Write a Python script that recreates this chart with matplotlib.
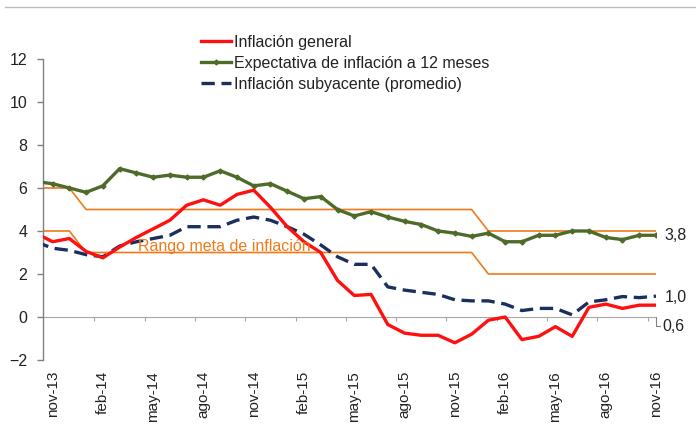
import matplotlib.pyplot as plt
from matplotlib.lines import Line2D
import numpy as np

plt.rcParams['font.family'] = ['Liberation Sans', 'DejaVu Sans']

# monthly data, oct-13 .. nov-16 (oct-13 only shows as the clipped start)
general = [3.9, 3.5, 3.65, 3.05, 2.75, 3.25, 3.7, 4.1, 4.5, 5.2, 5.45, 5.2, 5.7,
           5.9, 5.1, 4.2, 3.5, 3.0, 1.7, 1.0, 1.05, -0.35, -0.75, -0.85, -0.85,
           -1.2, -0.8, -0.15, 0.0, -1.05, -0.9, -0.45, -0.9, 0.45, 0.6, 0.4,
           0.55, 0.55]
expectativa = [6.3, 6.2, 6.0, 5.8, 6.1, 6.9, 6.7, 6.5, 6.6, 6.5, 6.5, 6.8, 6.5,
               6.1, 6.2, 5.85, 5.5, 5.6, 5.0, 4.7, 4.9, 4.65, 4.45, 4.3, 4.0,
               3.9, 3.75, 3.9, 3.5, 3.5, 3.8, 3.8, 4.0, 4.0, 3.7, 3.6, 3.8, 3.8]
subyacente = [3.5, 3.2, 3.1, 2.9, 2.8, 3.3, 3.5, 3.65, 3.8, 4.2, 4.2, 4.2, 4.5,
              4.65, 4.5, 4.2, 3.85, 3.35, 2.8, 2.45, 2.45, 1.4, 1.25, 1.15, 1.05,
              0.8, 0.75, 0.75, 0.6, 0.3, 0.4, 0.4, 0.1, 0.7, 0.8, 0.95, 0.9, 0.97]
rango_sup = [6] * 3 + [5] * 24 + [4] * 11
rango_inf = [4] * 3 + [3] * 24 + [2] * 11

tick_labels = ['nov-13', 'feb-14', 'may-14', 'ago-14', 'nov-14', 'feb-15',
               'may-15', 'ago-15', 'nov-15', 'feb-16', 'may-16', 'ago-16',
               'nov-16']

x = np.arange(len(general)) - 1  # nov-13 -> 0

orange = '#F07A1A'
green = '#4F6B2A'
navy = '#1B2F5E'
red = '#FF1010'
txt = '#222222'

fig = plt.figure(figsize=(6.96, 4.25), dpi=100)
ax = fig.add_axes([42.5 / 696, 65 / 425, 613.5 / 696, 301 / 425])

ax.plot(x, rango_sup, color=orange, lw=1.2, zorder=2)
ax.plot(x, rango_inf, color=orange, lw=1.2, zorder=2)
ax.plot(x, general, color=red, lw=2.4, label='Inflación general', zorder=4)
ax.plot(x, expectativa, color=green, lw=2.4, marker='D', markersize=2.5,
        label='Expectativa de inflación a 12 meses', zorder=3)
ax.plot(x, subyacente, color=navy, lw=2.4, dashes=(4, 2),
        label='Inflación subyacente (promedio)', zorder=3)

ax.axhline(0, color='#A6A6A6', lw=0.8, zorder=1)

ax.set_xlim(-0.6, 36)
ax.set_ylim(-2, 12)
ax.set_yticks(np.arange(-2, 13, 2))

# spines / ticks
for s in ['top', 'right', 'bottom']:
    ax.spines[s].set_visible(False)
ax.spines['left'].set_color('#808080')
ax.spines['left'].set_linewidth(1.0)
ax.tick_params(axis='y', length=4, width=1, color='#808080', labelsize=11.5,
               pad=7, labelcolor=txt)
ax.set_xticks([])

# small tick marks on the zero line between categories
ax.plot(np.arange(2.5, 36, 3), np.zeros(12), linestyle='none', marker=3,
        markersize=3, color='#A6A6A6', markeredgewidth=0.8)

# month labels at the bottom
for i, lab in enumerate(tick_labels):
    ax.text(3 * i, -2.5, lab, rotation=90, ha='center', va='top',
            fontsize=11, color=txt)

ax.text(5.1, 3.08, 'Rango meta de inflación', color=orange, fontsize=11.5,
        va='baseline', ha='left', zorder=5)

# end labels
ax.text(36.5, expectativa[-1], f'{expectativa[-1]:.1f}'.replace('.', ','),
        va='center', ha='left', fontsize=11.5, color=txt)
ax.text(36.5, subyacente[-1] - 0.05, f'{subyacente[-1]:.1f}'.replace('.', ','),
        va='center', ha='left', fontsize=11.5, color=txt)
ax.annotate(f'{general[-1]:.1f}'.replace('.', ','), xy=(36, 0),
            xytext=(36.4, -0.42), va='center', ha='left', fontsize=11.5,
            color=txt, annotation_clip=False,
            arrowprops=dict(arrowstyle='-', color='#808080', lw=0.8,
                            shrinkA=0, shrinkB=0,
                            connectionstyle='angle,angleA=0,angleB=90,rad=0'))

leg = ax.legend(loc='upper left', bbox_to_anchor=(201 / 696, 1 - 35 / 425),
                bbox_transform=fig.transFigure, frameon=False, fontsize=11.5,
                handlelength=1.9, handletextpad=0.15, labelspacing=0.36,
                borderpad=0, borderaxespad=0)
for t in leg.get_texts():
    t.set_color(txt)

fig.add_artist(Line2D([5 / 696, 1], [1 - 7 / 425] * 2, color='#BDBDBD', lw=1))

fig.savefig('out.png', dpi=100)
